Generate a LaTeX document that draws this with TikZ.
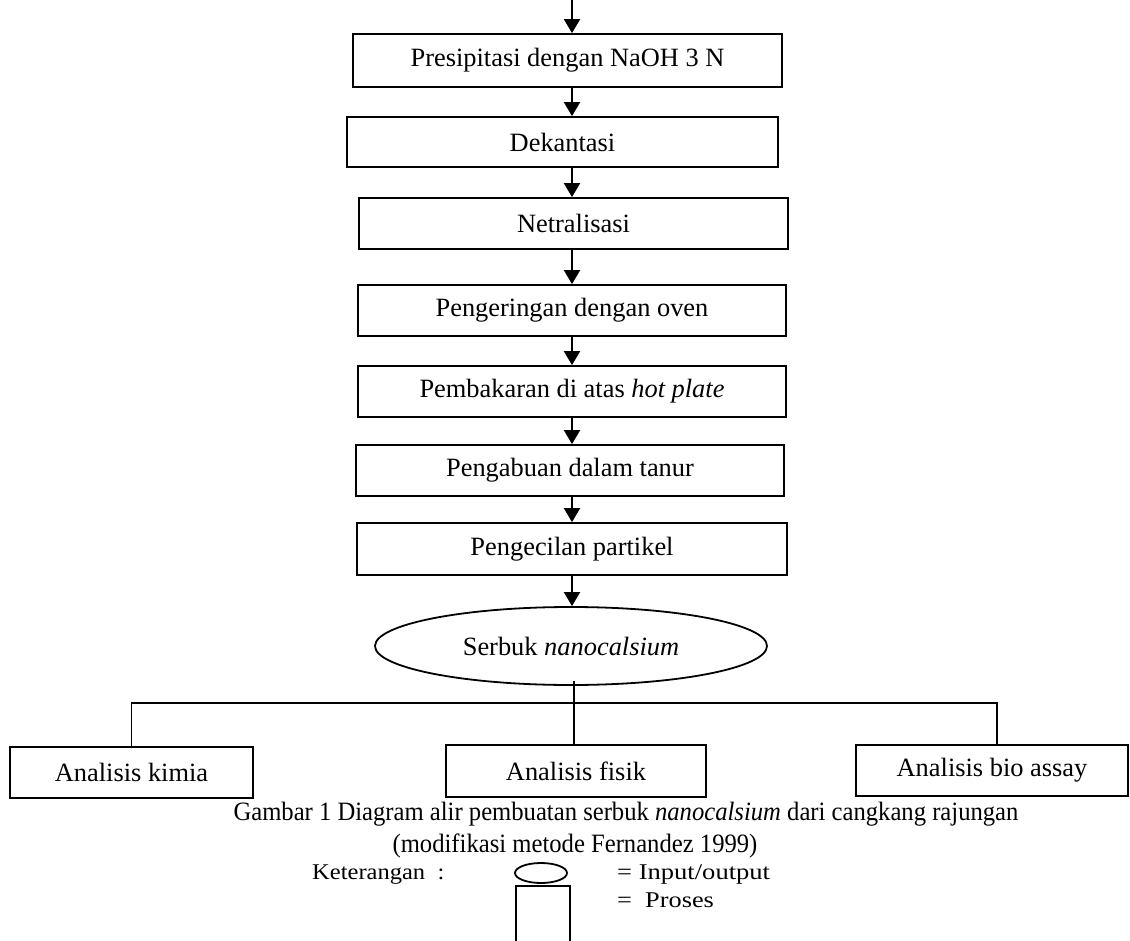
\documentclass[tikz,border=0pt]{standalone}
\usepackage{fontspec}
\setmainfont{Liberation Serif}
\usetikzlibrary{arrows.meta,shapes.geometric}
\begin{document}
\begin{tikzpicture}[x=1pt,y=-1pt,
  proc/.style={draw,line width=1.8pt,rectangle,inner sep=0pt,font=\fontsize{26.4}{30}\selectfont},
  io/.style={draw,line width=1.8pt,ellipse,inner sep=0pt,font=\fontsize{26.4}{30}\selectfont},
  flow/.style={line width=2pt,-{Triangle[width=16pt,length=14pt]}},
  tree/.style={line width=1.4pt},
  legtext/.style={inner sep=0pt,anchor=base west,font=\fontsize{22.5}{26}\selectfont}]
\useasboundingbox[fill=white] (0,0) rectangle (1130,941);
\coordinate (ax) at (572,0);
\node[proc,minimum width=429pt,minimum height=53pt] (b1) at (567.5,60.5) {Presipitasi dengan NaOH 3 N};
\node[proc,minimum width=431pt,minimum height=50pt] (b2) at (562.5,142) {Dekantasi};
\node[proc,minimum width=429pt,minimum height=51pt] (b3) at (573.5,223.5) {Netralisasi};
\node[proc,minimum width=428pt,minimum height=51pt] (b4) at (572,310.5) {Pengeringan dengan oven};
\node[proc,minimum width=428pt,minimum height=51pt] (b5) at (572,391.5) {Pembakaran di atas \textit{hot plate}};
\node[proc,minimum width=428pt,minimum height=51pt] (b6) at (570,470.5) {Pengabuan dalam tanur};
\node[proc,minimum width=430pt,minimum height=52pt] (b7) at (572,549) {Pengecilan partikel};
\node[io,minimum width=392pt,minimum height=78pt] (ser) at (571,646) {Serbuk \textit{nanocalsium}};
\node[proc,minimum width=243pt,minimum height=51pt] (kimia) at (131.5,772.5) {Analisis kimia};
\node[proc,minimum width=260pt,minimum height=52pt] (fisik) at (576,771) {Analisis fisik};
\node[proc,minimum width=272pt,minimum height=51pt] (bio) at (992,770.5) {Analisis bio assay};

\draw[flow] (ax) -- (b1.north -| ax);
\draw[flow] (b1.south -| ax) -- (b2.north -| ax);
\draw[flow] (b2.south -| ax) -- (b3.north -| ax);
\draw[flow] (b3.south -| ax) -- (b4.north -| ax);
\draw[flow] (b4.south -| ax) -- (b5.north -| ax);
\draw[flow] (b5.south -| ax) -- (b6.north -| ax);
\draw[flow] (b6.south -| ax) -- (b7.north -| ax);
\draw[flow] (b7.south -| ax) -- (ser.north -| ax);

\coordinate (bus) at (574,703);
\draw[tree] ([yshift=5pt]ser.south -| bus) -- (fisik.north -| bus);
\draw[tree] (kimia.north) |- (bus) -| ([xshift=5pt]bio.north);

\node[inner sep=0pt,anchor=base,font=\fontsize{26.5}{30}\selectfont] (cap1) at (626,820)
  {\scalebox{0.93}[1]{Gambar 1 Diagram alir pembuatan serbuk \textit{nanocalsium} dari cangkang rajungan}};
\node[inner sep=0pt,anchor=base,font=\fontsize{26.5}{30}\selectfont] (cap2) at (575,852)
  {\scalebox{0.93}[1]{(modifikasi metode Fernandez 1999)}};

\node[legtext] (ket) at (312,879) {\scalebox{1.09}[1]{Keterangan\ \ :}};
\draw[line width=1.8pt] (541,873) ellipse [x radius=26pt,y radius=10pt];
\draw[line width=1.8pt] (516,943) -- (516,886) -- (570,886) -- (570,943);
\node[legtext] (l1) at (617,879) {\scalebox{1.18}[1]{= Input/output}};
\node[legtext] (l2) at (617,907) {\scalebox{1.17}[1]{=\ \ Proses}};
\end{tikzpicture}
\end{document}
